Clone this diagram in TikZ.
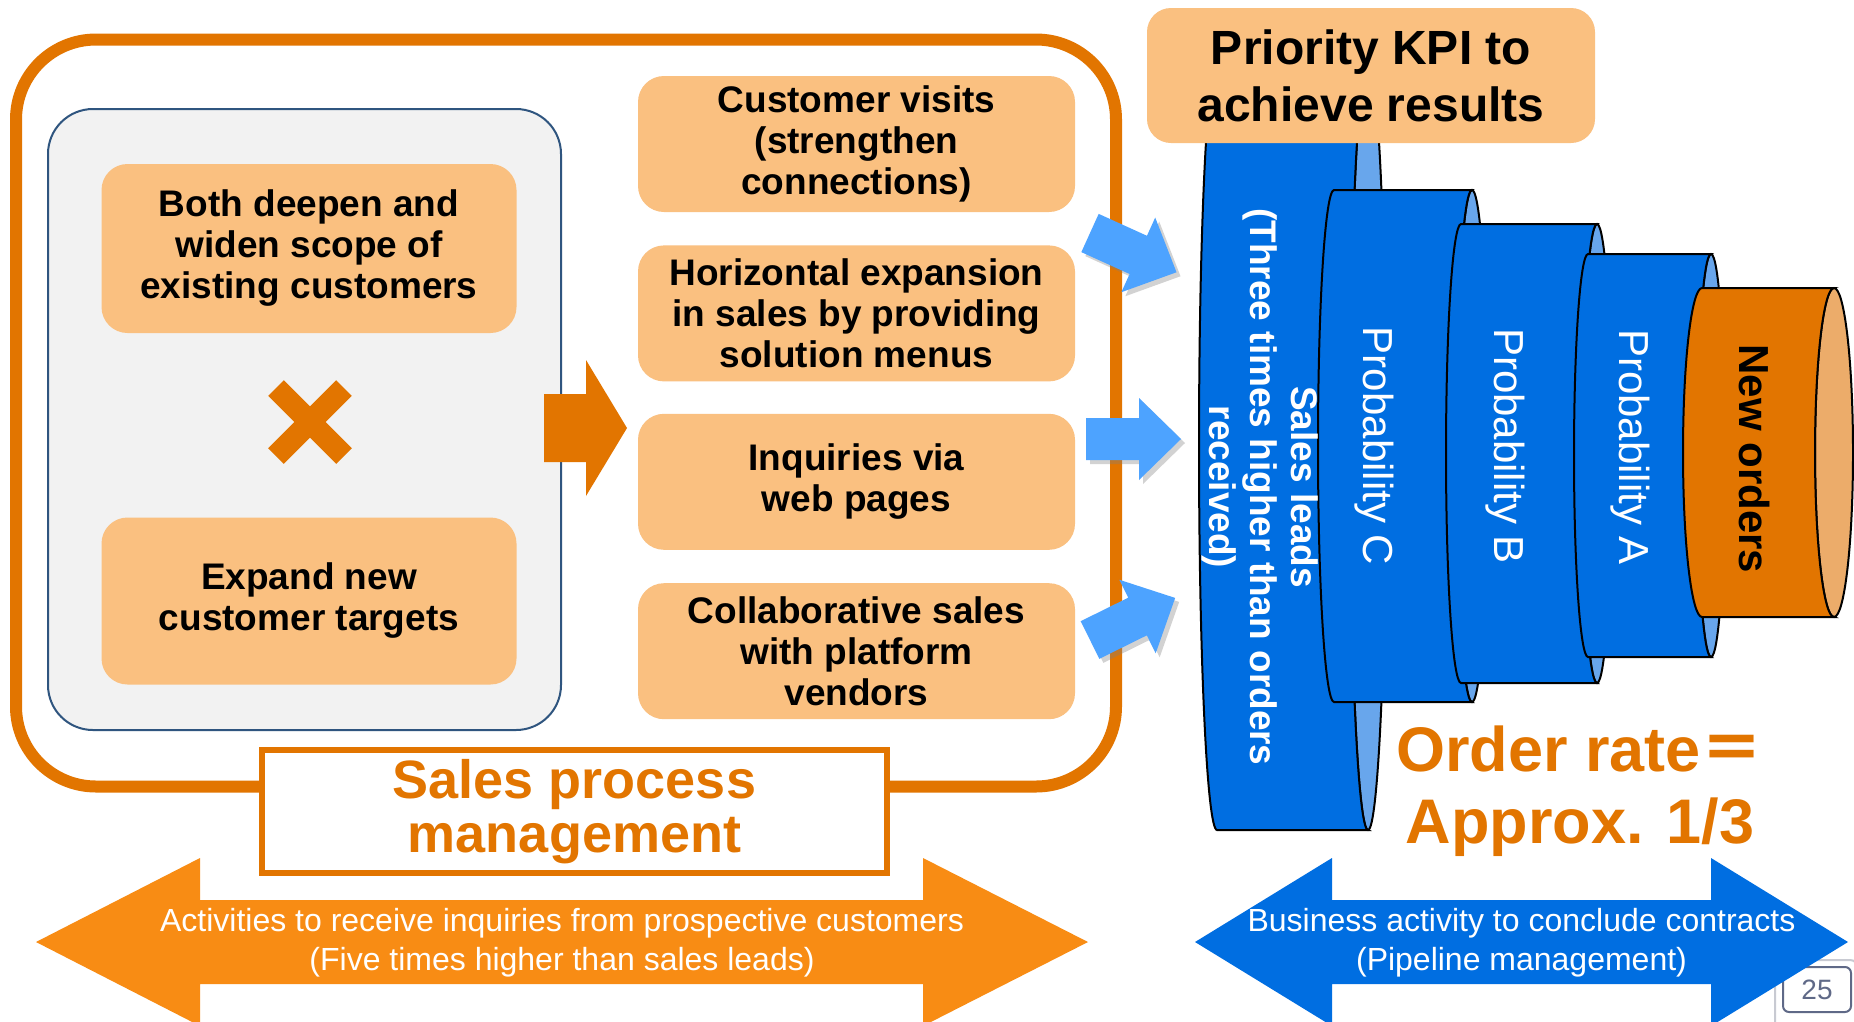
\documentclass[tikz,border=0pt]{standalone}
\usepackage{fontspec}
\setmainfont{Liberation Sans}
\newfontfamily\cjk{Noto Sans CJK SC}
\usepackage{tikz}
\usetikzlibrary{positioning, shadows}
\definecolor{frameorange}{RGB}{226,117,0}
\definecolor{boxorange}{RGB}{250,192,128}
\definecolor{arroworange}{RGB}{248,140,20}
\definecolor{grayfill}{RGB}{242,242,242}
\definecolor{grayline}{RGB}{47,85,127}
\definecolor{leadblue}{RGB}{0,110,225}
\definecolor{faceblue}{RGB}{104,166,236}
\definecolor{pointblue}{RGB}{77,163,255}
\definecolor{faceorange}{RGB}{236,172,106}
\definecolor{pagegray}{RGB}{95,105,135}
\definecolor{pagelight}{RGB}{200,202,210}

\begin{document}
\begin{tikzpicture}[x=1pt, y=-1pt,
    box/.style={rectangle, rounded corners=26pt, fill=boxorange, align=center, inner sep=0pt,
      minimum width=437pt, minimum height=136pt, font=\bfseries\fontsize{37pt}{41pt}\selectfont},
    bluepoint/.style={fill=pointblue, drop shadow={shadow xshift=4pt, shadow yshift=-4pt, opacity=0.35}},
    upright/.style={rotate=-90, align=center, text=white}]

    \useasboundingbox (0,0) rectangle (1854,1021);
    \fill[white] (0,0) rectangle (1854,1021);

    % sales process frame
    \draw[frameorange, line width=12pt, rounded corners=80pt] (16,39.5) rectangle (1116,786.5);
    \draw[fill=grayfill, draw=grayline, line width=2pt, rounded corners=45pt] (48,109) rectangle (561,730);

    \node[box, minimum width=415pt, minimum height=169pt] (deepen) at (309,248.5) {Both deepen and\\widen scope of\\existing customers};
    \node[box, minimum width=415pt, minimum height=167pt] (expand) at (309,601) {Expand new\\customer targets};
    \draw[frameorange, line width=22pt] (276,388) -- (344,456) (276,456) -- (344,388);

    \fill[frameorange] (544,394) -- (586,394) -- (586,360) -- (627,428) -- (586,496) -- (586,462) -- (544,462) -- cycle;

    \node[box] (visits) at (856.5,144) {Customer visits\\(strengthen\\connections)};
    \node[box, below=33pt of visits] (menus) {Horizontal expansion\\in sales by providing\\solution menus};
    \node[box, below=32pt of menus] (web) {Inquiries via\\web pages};
    \node[box, below=33pt of web] (vendors) {Collaborative sales\\with platform\\vendors};

    \node[draw=frameorange, line width=6pt, fill=white, minimum width=625pt, minimum height=123pt, inner sep=0pt,
      align=center, text=frameorange, font=\bfseries\fontsize{54pt}{54pt}\selectfont] (process) at (574.5,811.5) {Sales process\\management};

    % pipeline
    \foreach \xl/\xr/\yt/\yb/\rx/\bodycol/\facecol in {1217/1368/62/830/18/leadblue/faceblue,
        1334/1472/190/702/16/leadblue/faceblue, 1461/1597/224/683/15/leadblue/faceblue,
        1588/1711/254/657/14/leadblue/faceblue, 1702/1834/288/617/19/frameorange/faceorange} {
      \pgfmathsetmacro\ry{(\yb-\yt)/2}
      \pgfmathsetmacro\yc{(\yb+\yt)/2}
      \filldraw[fill=\facecol, draw=black, line width=2pt] (\xr,\yc) ellipse [x radius=\rx, y radius=\ry];
      \filldraw[fill=\bodycol, draw=black, line width=2pt] (\xl,\yt) -- (\xr,\yt)
        arc[start angle=270, end angle=90, x radius=\rx, y radius=\ry] -- (\xl,\yb)
        arc[start angle=90, end angle=270, x radius=\rx, y radius=\ry] -- cycle;
    }

    \node[box, minimum width=448pt, minimum height=135pt, rounded corners=24pt,
      font=\bfseries\fontsize{48pt}{57pt}\selectfont] (kpi) at (1371,75.5) {Priority KPI to\\achieve results};

    \node[upright, font=\bfseries\fontsize{37pt}{41pt}\selectfont] (leads) at (1260,487) {Sales leads\\(Three times higher than orders\\received)};
    \node[upright, font=\fontsize{42pt}{48pt}\selectfont] (probc) at (1374,446) {Probability C};
    \node[upright, font=\fontsize{42pt}{48pt}\selectfont] (probb) at (1505,446) {Probability B};
    \node[upright, font=\fontsize{42pt}{48pt}\selectfont] (proba) at (1630,447) {Probability A};
    \node[upright, text=black, font=\bfseries\fontsize{42pt}{48pt}\selectfont] (neworders) at (1754,459) {New orders};

    \node[align=center, text=frameorange, font=\bfseries\fontsize{63pt}{72pt}\selectfont] (rate) at (1580,791) {Order rate{\cjk ＝}\\Approx. 1/3};

    \foreach \tx/\ty/\ang in {1090/233/-24.4, 1086/439/0, 1090/640/26.3}
      \fill[bluepoint, shift={(\tx,\ty)}, rotate=\ang] (0,-21) -- (53,-21) -- (53,-41) -- (95,0) -- (53,41) -- (53,21) -- (0,21) -- cycle;

    % page number
    \draw[pagelight, line width=2pt, rounded corners=8pt] (1775,960) rectangle (1858,1030);
    \node[draw=pagegray, line width=2pt, rounded corners=6pt, minimum width=68pt, minimum height=45pt,
      text=pagegray, font=\fontsize{28pt}{28pt}\selectfont] (page) at (1817,989.5) {25};

    % bottom arrows
    \fill[arroworange] (36,942) -- (200,858) -- (200,900) -- (923,900) -- (923,858) -- (1088,942)
      -- (923,1026) -- (923,984) -- (200,984) -- (200,1026) -- cycle;
    \node[text=white, align=center, font=\fontsize{32pt}{39pt}\selectfont] (inquiries) at (562,943)
      {Activities to receive inquiries from prospective customers\\(Five times higher than sales leads)};
    \fill[leadblue] (1195,942) -- (1332,858) -- (1332,900) -- (1711,900) -- (1711,858) -- (1848,942)
      -- (1711,1026) -- (1711,984) -- (1332,984) -- (1332,1026) -- cycle;
    \node[text=white, align=center, font=\fontsize{32pt}{39pt}\selectfont] (contracts) at (1521.5,943)
      {Business activity to conclude contracts\\(Pipeline management)};
\end{tikzpicture}
\end{document}
